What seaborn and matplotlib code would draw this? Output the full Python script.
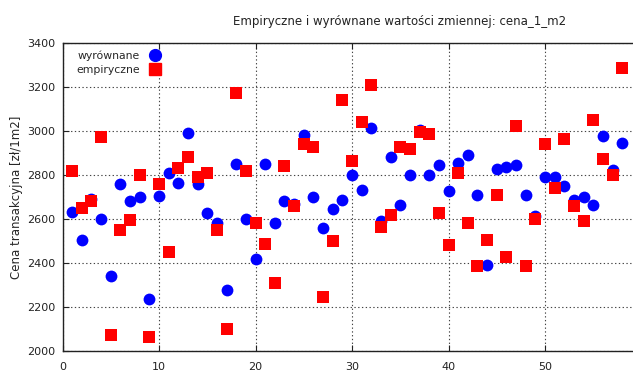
import numpy as np
import pandas as pd
import matplotlib
matplotlib.use("Agg")
import matplotlib.pyplot as plt
import seaborn as sns
from matplotlib.lines import Line2D

title = "Empiryczne i wyrównane wartości zmiennej: cena_1_m2"
ylabel = "Cena transakcyjna [zł/1m2]"
label_fit = "wyrównane"
label_emp = "empiryczne"

obs = list(range(1, 59))
fitted = [2630, 2503, 2692, 2601, 2343, 2760, 2680, 2700, 2238, 2705,
          2808, 2763, 2990, 2760, 2627, 2582, 2279, 2851, 2601, 2418,
          2849, 2582, 2683, 2669, 2982, 2698, 2559, 2645, 2687, 2798,
          2730, 3013, 2589, 2881, 2665, 2801, 3005, 2801, 2846, 2728,
          2854, 2892, 2710, 2392, 2827, 2836, 2846, 2710, 2612, 2793,
          2793, 2748, 2687, 2700, 2665, 2978, 2823, 2945]
empirical = [2816, 2650, 2683, 2972, 2072, 2551, 2597, 2801, 2063, 2760,
             2451, 2831, 2884, 2789, 2811, 2548, 2102, 3174, 2819, 2582,
             2488, 2309, 2842, 2657, 2941, 2929, 2244, 2498, 3141, 2864,
             3043, 3209, 2562, 2619, 2926, 2919, 2994, 2987, 2627, 2483,
             2808, 2582, 2385, 2503, 2710, 2427, 3024, 2385, 2600, 2941,
             2740, 2963, 2657, 2592, 3050, 2872, 2801, 3285]
xticks = [0, 10, 20, 30, 40, 50, 60]
yticks = [2000, 2200, 2400, 2600, 2800, 3000, 3200, 3400]

sns.set_theme(style="white")
plt.rcParams['font.family'] = ['DejaVu Sans']

df_fit = pd.DataFrame({"obs": obs, "val": fitted})
df_emp = pd.DataFrame({"obs": obs, "val": empirical})

W, H = 633, 370
fig = plt.figure(figsize=(W / 100, H / 100), dpi=100)
ax = fig.add_axes([62.5 / W, (H - 351) / H, 579 / W, (351 - 43) / H])

ms = 8.5
sns.scatterplot(data=df_fit, x="obs", y="val", ax=ax, marker="o", color="#0000FF",
                s=ms ** 2, linewidth=0, zorder=3)
sns.scatterplot(data=df_emp, x="obs", y="val", ax=ax, marker="s", color="#FF0000",
                s=ms ** 2, linewidth=0, zorder=4)

ax.set_xlim(0, 60)
ax.set_ylim(2000, 3400)
ax.set_xticks(xticks)
ax.set_yticks(yticks)
ax.set_xlabel("")
ax.set_ylabel(ylabel, fontsize=8.5, labelpad=3)
ax.tick_params(axis="both", labelsize=8, direction="in", length=4, width=0.8,
               colors="#222222", top=True, bottom=True, left=True)
ax.tick_params(axis="x", pad=8)
ax.tick_params(axis="y", pad=5)
ax.grid(True, linestyle=(0, (1.2, 2.2)), color="#444444", linewidth=0.8)
for s in ax.spines.values():
    s.set_color("#222222")
    s.set_linewidth(1.0)

fig.text(400 / W, 1 - 22 / H, title, ha="center", va="center", fontsize=8.5, color="#222222")

handles = [Line2D([], [], marker="o", color="#0000FF", linestyle="none", markersize=ms),
           Line2D([], [], marker="s", color="#FF0000", linestyle="none", markersize=ms)]
leg = ax.legend(handles, [label_fit, label_emp], loc="upper left", markerfirst=False,
                frameon=False, fontsize=7.8, handlelength=1.0, handletextpad=0.95,
                labelspacing=0.35, bbox_to_anchor=(0.012, 0.997), borderaxespad=0.2)

fig.savefig("out.png", dpi=100)
